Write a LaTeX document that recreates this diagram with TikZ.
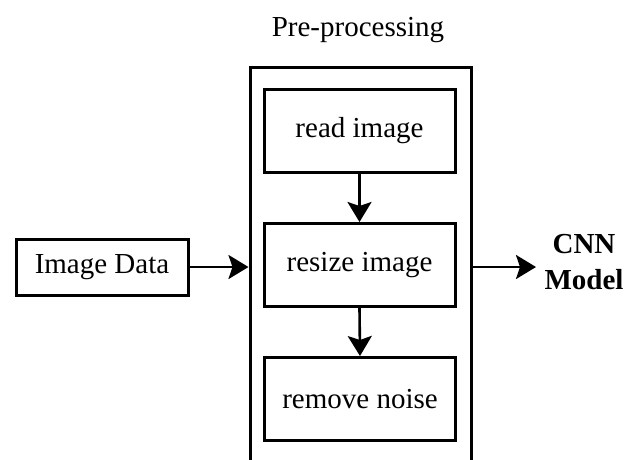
\documentclass[tikz,border=0pt]{standalone}
\usepackage{fontspec}
\setmainfont{Liberation Serif}
\usetikzlibrary{arrows.meta,calc}
\begin{document}
\begin{tikzpicture}[x=1pt,y=-1pt,
  box/.style={draw,line width=3pt,minimum width=191pt,minimum height=83pt,inner sep=0pt,
    font=\fontsize{29}{34}\selectfont},
  flow/.style={line width=2.6pt,-{Stealth[length=20pt,width=24pt,inset=4pt]}},
  lbl/.style={font=\fontsize{29}{34}\selectfont,inner sep=0pt}]
  \useasboundingbox (0,0) rectangle (640,459);
  \clip (0,0) rectangle (640,459);
  % pre-processing frame (runs past the lower edge)
  \node[draw,line width=3pt,minimum width=221pt,minimum height=440pt,inner sep=0pt,anchor=north]
    (prep) at (360.5,66) {};
  \node[lbl] (title) at (358,30) {Pre-processing};
  % the three stages
  \node[box] (read) at (359.5,130.5) {read image};
  \node[box] (resize) at (359.5,265) {resize image};
  \node[box] (noise) at (360,399) {remove noise};
  % input
  \node[draw,line width=3pt,minimum width=172pt,minimum height=56pt,inner sep=0pt,
    font=\fontsize{29}{34}\selectfont] (data) at (102,267) {Image Data};
  % output
  \coordinate (out) at (536,267);
  \node[font=\fontsize{29}{36}\selectfont\bfseries,align=center,inner sep=0pt] (cnn) at (584,262) {CNN\\Model};
  % connectors
  \draw[flow] (data.east) -- (data.east -| prep.west);
  \draw[flow] (read.south) -- (resize.north);
  \draw[flow] (resize.south) -- (noise.north);
  \draw[flow] (prep.east |- out) -- (out);
\end{tikzpicture}
\end{document}
